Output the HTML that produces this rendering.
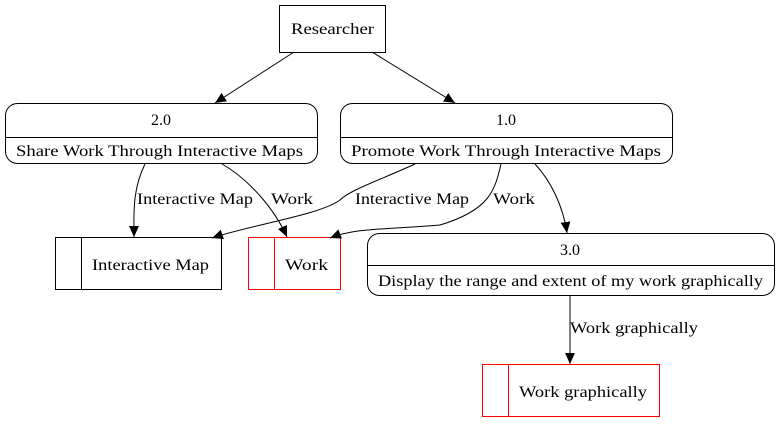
<!DOCTYPE html>
<html><head><style>
body{margin:0;background:#fff;width:779px;height:419px;overflow:hidden}
</style></head><body>
<svg width="779" height="419" viewBox="0 0 779 419" xmlns="http://www.w3.org/2000/svg">
<defs><marker id="a" viewBox="0 0 10 10" refX="10" refY="5" markerWidth="11" markerHeight="11" markerUnits="userSpaceOnUse" orient="auto"><path d="M0,0.5 L10,5 L0,9.5z" fill="#000"/></marker></defs>
<g fill="none" stroke="#000" stroke-width="1">
<rect x="279.5" y="5.5" width="106" height="47"/>
<rect x="5.5" y="103.5" width="312" height="60" rx="12"/>
<line x1="5.5" y1="137.5" x2="317.5" y2="137.5"/>
<rect x="340.5" y="103.5" width="332" height="60" rx="12"/>
<line x1="340.5" y1="137.5" x2="672.5" y2="137.5"/>
<rect x="367.5" y="233.5" width="407" height="62" rx="12"/>
<line x1="367.5" y1="265.5" x2="774.5" y2="265.5"/>
<rect x="55.5" y="237.5" width="166" height="52"/>
<line x1="81.5" y1="237.5" x2="81.5" y2="289.5"/>
<g stroke="#f00"><rect x="248.5" y="237.5" width="92" height="52"/>
<line x1="274.5" y1="237.5" x2="274.5" y2="289.5"/>
<rect x="482.5" y="364.5" width="177" height="52"/>
<line x1="508.5" y1="364.5" x2="508.5" y2="416.5"/></g>
<path d="M294,52 L215,103" marker-end="url(#a)"/>
<path d="M372,52 L455,103" marker-end="url(#a)"/>
<path d="M145,164 C132,190 134,215 134,237" marker-end="url(#a)"/>
<path d="M222,164 C250,180 275,210 287,237" marker-end="url(#a)"/>
<path d="M415,164 C380,180 350,190 340,200 C320,215 250,225 212,238" marker-end="url(#a)"/>
<path d="M501,164 C495,190 490,210 440,225 C380,230 355,228 330,238" marker-end="url(#a)"/>
<path d="M535,164 C550,180 563,205 567,233" marker-end="url(#a)"/>
<path d="M570,296 L570,364" marker-end="url(#a)"/>
</g>
<g font-family="'Liberation Serif','Times New Roman',serif" font-size="16" fill="#000">
<text x="291" y="34" textLength="83" lengthAdjust="spacingAndGlyphs">Researcher</text>
<text x="161" y="125" text-anchor="middle">2.0</text>
<text x="16" y="156" textLength="287" lengthAdjust="spacingAndGlyphs">Share Work Through Interactive Maps</text>
<text x="506" y="125" text-anchor="middle">1.0</text>
<text x="351" y="156" textLength="310" lengthAdjust="spacingAndGlyphs">Promote Work Through Interactive Maps</text>
<text x="570" y="255" text-anchor="middle">3.0</text>
<text x="378" y="286" textLength="385" lengthAdjust="spacingAndGlyphs">Display the range and extent of my work graphically</text>
<text x="92" y="270" textLength="117" lengthAdjust="spacingAndGlyphs">Interactive Map</text>
<text x="285" y="270" textLength="43" lengthAdjust="spacingAndGlyphs">Work</text>
<text x="519" y="397" textLength="128" lengthAdjust="spacingAndGlyphs">Work graphically</text>
<text x="137" y="204" textLength="116" lengthAdjust="spacingAndGlyphs">Interactive Map</text>
<text x="271" y="204" textLength="42" lengthAdjust="spacingAndGlyphs">Work</text>
<text x="355" y="204" textLength="114" lengthAdjust="spacingAndGlyphs">Interactive Map</text>
<text x="493" y="204" textLength="42" lengthAdjust="spacingAndGlyphs">Work</text>
<text x="570" y="333" textLength="128" lengthAdjust="spacingAndGlyphs">Work graphically</text>
</g>
</svg>
</body></html>
